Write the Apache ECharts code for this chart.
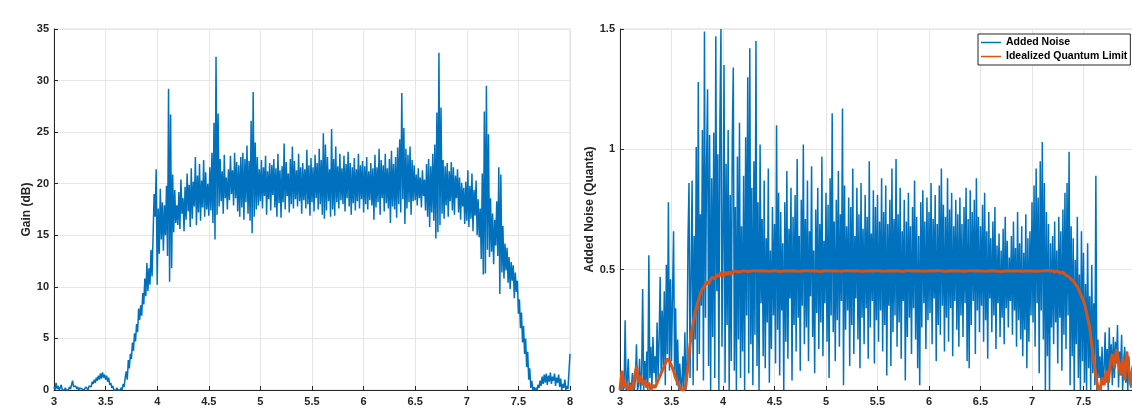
<!DOCTYPE html>
<html><head><meta charset="utf-8">
<script src="https://cdn.jsdelivr.net/npm/echarts@6/dist/echarts.min.js"></script>
<style>html,body{margin:0;padding:0;background:#fff}#c{width:1132px;height:408px}</style>
</head><body><div id="c"></div>
<script>
// Frequency sampling grid (GHz) for the blue traces
const freqStart = 3.0;
const freqStep = 0.01;
const xTicks = [3, 3.5, 4, 4.5, 5, 5.5, 6, 6.5, 7, 7.5, 8];
const gainTicks = [0, 5, 10, 15, 20, 25, 30, 35];
const noiseTicks = [0, 0.5, 1, 1.5];

// Gain (dB)
const gainDb = [
0.3,0.0,0.7,0.1,0.4,0.0,0.2,0.5,0.0,0.1,
0.0,0.2,0.0,0.1,0.0,0.3,0.1,0.2,0.9,0.3,
0.2,0.4,0.1,0.3,0.0,0.2,0.3,0.1,0.2,0.0,
0.1,0.3,0.2,0.0,0.4,0.5,0.3,0.8,0.6,1.0,
0.7,1.2,0.9,1.4,1.0,1.6,1.1,1.7,1.2,1.5,
1.0,1.4,0.8,1.2,0.5,0.7,0.2,0.4,0.0,0.1,
0.0,0.2,0.0,0.1,0.0,0.2,0.0,0.6,0.3,1.2,
1.8,1.0,2.9,2.1,3.5,3.0,4.6,3.8,5.5,4.7,
6.4,5.6,7.9,6.8,8.2,7.2,9.4,8.3,10.8,9.1,
12.3,9.6,11.8,10.2,13.6,11.0,14.9,19.0,16.8,21.4,
10.2,17.6,13.2,19.5,14.6,18.2,13.5,17.9,15.0,19.8,
13.0,29.2,10.5,26.7,11.8,20.9,15.3,19.4,16.2,17.9,
16.0,19.2,15.6,20.4,17.1,18.6,15.4,19.7,16.5,21.0,
17.3,19.9,15.8,21.5,16.6,20.2,17.8,22.6,16.0,20.8,
17.2,21.9,16.4,20.3,17.7,22.3,16.8,21.1,17.5,20.0,
16.9,21.6,17.4,23.0,16.2,25.9,14.6,32.3,17.0,26.8,
17.8,22.4,18.3,21.2,17.1,22.8,18.6,20.6,17.5,21.4,
18.4,22.7,19.0,21.3,17.9,23.0,18.6,22.1,17.3,21.8,
16.8,22.6,17.7,23.0,16.5,22.4,18.2,23.7,17.1,22.2,
16.4,26.1,15.2,28.9,16.8,24.0,17.5,22.6,17.9,21.4,
18.3,22.3,17.6,21.6,18.8,22.7,17.0,21.2,18.5,22.0,
17.4,21.8,18.9,22.4,17.7,21.5,16.8,22.9,18.1,21.3,
16.7,21.7,18.2,23.9,17.5,22.1,18.8,21.0,17.2,22.4,
18.0,23.6,17.6,22.2,18.5,21.3,17.8,22.9,18.3,21.6,
17.1,22.0,18.4,21.4,17.6,23.3,18.0,21.8,16.9,22.5,
18.2,21.6,17.3,22.8,18.6,22.0,17.5,23.4,18.0,22.3,
17.0,24.9,16.6,23.8,17.4,22.6,18.3,21.4,16.8,25.3,
17.5,22.4,16.9,23.6,18.2,21.7,17.6,22.9,18.4,21.5,
18.0,22.7,17.3,21.9,18.6,23.1,17.8,22.0,17.0,21.6,
18.1,22.5,17.4,21.4,18.3,22.9,17.6,21.8,18.5,22.2,
17.2,21.7,18.0,22.6,17.5,21.2,18.4,22.0,17.9,21.5,
16.5,22.8,17.7,21.6,18.2,23.4,17.0,22.3,18.6,21.8,
17.3,22.9,18.1,21.5,17.6,22.4,16.2,23.2,17.8,21.9,
17.5,22.6,16.7,23.5,18.0,24.3,17.2,28.8,18.5,25.4,
16.1,23.4,17.6,22.8,18.2,23.6,17.0,22.3,18.3,21.8,
18.4,20.9,17.9,21.5,18.6,20.6,17.7,21.3,18.8,20.4,
17.4,21.9,16.8,22.4,15.8,21.7,17.2,22.9,16.4,23.8,
14.7,26.9,15.3,32.7,16.0,27.4,17.1,22.3,16.6,21.7,
17.9,22.0,16.8,21.2,18.3,22.1,17.4,21.6,17.0,20.8,
18.6,21.4,17.2,20.6,16.5,20.1,17.8,19.6,16.1,20.2,
16.4,21.3,15.8,19.8,16.6,21.0,15.4,19.4,16.9,20.3,
15.0,18.5,14.8,17.6,12.7,21.0,11.2,27.0,11.3,29.5,
13.6,24.8,12.9,18.6,13.4,17.1,12.2,16.5,14.0,18.3,
13.0,21.6,9.3,20.9,11.4,15.9,10.8,14.2,11.6,13.8,
10.4,12.9,9.8,12.4,10.6,12.1,8.9,11.4,9.5,10.6,
7.4,8.8,6.0,7.5,4.6,6.2,3.5,5.0,2.2,3.7,
1.0,2.1,0.2,0.9,0.0,0.3,0.0,0.2,0.0,0.5,
0.2,0.9,0.4,1.3,0.6,1.5,0.7,1.6,0.5,1.4,
0.8,1.7,0.6,1.3,0.9,1.6,0.4,1.2,0.7,1.5,
0.3,1.1,0.0,0.6,0.2,1.0,0.0,0.4,0.1,1.8,
3.5
];

// Added noise (quanta)
const addedNoise = [
0.02,0.00,0.06,0.00,0.01,0.29,0.00,0.04,0.13,0.00,
0.03,0.00,0.07,0.01,0.00,0.05,0.19,0.00,0.02,0.13,
0.00,0.06,0.42,0.00,0.12,0.02,0.16,0.00,0.56,0.05,
0.18,0.01,0.22,0.07,0.14,0.03,0.28,0.05,0.21,0.47,
0.06,0.33,0.10,0.41,0.02,0.52,0.15,0.78,0.08,0.46,
0.12,0.39,0.66,0.05,0.34,0.02,0.21,0.00,0.11,0.03,
0.00,0.14,0.01,0.24,0.00,0.09,0.62,0.86,0.05,0.48,
0.87,0.02,0.64,0.21,1.01,0.08,1.28,0.15,0.73,0.35,
1.08,0.04,1.49,0.30,0.92,1.25,0.10,1.06,0.00,0.88,
0.22,1.07,0.05,1.47,0.41,0.98,0.00,1.12,1.50,0.18,
0.62,1.35,0.03,0.94,0.27,1.08,0.00,0.81,0.12,1.04,
1.34,0.08,0.76,0.00,0.97,0.21,1.11,0.05,0.68,0.16,
0.89,0.00,1.05,0.31,1.30,0.07,1.42,0.19,0.84,0.02,
0.95,0.23,1.45,0.10,0.78,0.00,1.02,0.36,0.71,0.14,
0.87,0.09,0.63,0.28,0.92,0.03,0.58,0.17,0.76,0.31,
0.69,0.11,1.10,0.25,0.82,0.06,0.74,0.33,0.61,0.00,
0.78,0.20,0.91,0.13,0.67,0.38,0.84,0.04,0.72,0.27,
0.81,0.16,0.96,0.30,0.64,0.08,0.79,0.35,1.02,0.19,
0.71,0.26,0.87,0.12,0.66,0.39,0.93,0.22,0.58,0.07,
0.75,0.32,0.84,0.17,0.69,0.28,0.97,0.14,0.62,0.36,
0.82,0.20,0.77,0.05,0.88,0.31,1.15,0.24,0.70,0.12,
0.79,0.29,0.91,0.18,0.73,0.37,1.17,0.02,0.85,0.25,
0.68,0.33,0.80,0.10,0.76,0.27,0.92,0.15,0.64,0.38,
0.84,0.21,0.73,0.09,0.86,0.30,0.67,0.19,0.81,0.34,
0.72,0.13,0.95,0.26,0.65,0.37,0.83,0.11,0.76,0.29,
0.81,0.20,0.70,0.33,0.88,0.16,0.74,0.27,0.85,0.06,
0.69,0.35,0.79,0.10,0.92,0.24,0.71,0.31,0.96,0.18,
0.73,0.28,0.84,0.13,0.66,0.37,0.79,0.04,0.70,0.22,
0.82,0.30,0.68,0.15,0.76,0.34,0.87,0.21,0.72,0.09,
0.64,0.02,0.78,0.26,0.83,0.36,0.70,0.17,0.80,0.29,
0.74,0.32,0.86,0.19,0.71,0.38,0.81,0.12,0.69,0.27,
0.85,0.23,0.92,0.35,0.77,0.16,0.72,0.30,0.88,0.20,
0.75,0.34,0.82,0.14,0.68,0.37,0.79,0.25,0.73,0.18,
0.80,0.31,0.69,0.22,0.76,0.36,0.84,0.12,0.71,0.09,
0.83,0.27,0.74,0.37,0.79,0.15,0.88,0.33,0.72,0.24,
0.68,0.35,0.77,0.20,0.82,0.29,0.66,0.13,0.74,0.38,
0.63,0.24,0.70,0.31,0.76,0.17,0.60,0.36,0.65,0.22,
0.58,0.30,0.67,0.19,0.72,0.34,0.62,0.26,0.55,0.37,
0.64,0.23,0.70,0.33,0.59,0.18,0.74,0.29,0.61,0.21,
0.68,0.14,0.57,0.25,0.73,0.09,0.63,0.20,0.66,0.31,
0.78,0.28,0.85,0.18,0.92,0.36,0.80,0.07,0.95,0.33,
1.03,0.21,0.86,0.00,0.74,0.14,0.69,0.00,0.61,0.26,
0.64,0.19,0.70,0.28,0.58,0.11,0.72,0.30,0.66,0.08,
0.75,0.23,0.82,0.17,0.86,0.31,0.99,0.02,0.68,0.14,
0.63,0.00,0.54,0.19,0.72,0.05,0.48,0.00,0.66,0.12,
0.57,0.03,0.44,0.00,0.61,0.09,0.39,0.00,0.52,0.07,
0.36,0.02,0.89,0.00,0.21,0.05,0.14,0.00,0.18,0.02,
0.09,0.24,0.03,0.17,0.00,0.26,0.08,0.19,0.02,0.22,
0.05,0.20,0.11,0.27,0.01,0.16,0.07,0.23,0.00,0.12,
0.18,0.03,0.10,0.00,0.14,0.06,0.01,0.09,0.00,0.05,
0.02
];

// Idealized quantum limit: frequencies and values
const limitFreq = [
3.00,3.02,3.04,3.06,3.08,3.10,3.12,3.14,3.16,3.18,
3.20,3.22,3.24,3.26,3.28,3.30,3.32,3.34,3.36,3.38,
3.40,3.42,3.44,3.46,3.48,3.50,3.52,3.54,3.56,3.58,
3.60,3.62,3.64,3.66,3.68,3.70,3.72,3.74,3.76,3.78,
3.80,3.82,3.84,3.86,3.88,3.90,3.92,3.94,3.96,3.98,
4.00,4.02,4.04,4.06,4.08,4.10,4.15,4.20,4.25,4.30,
4.35,4.40,4.45,4.50,4.55,4.60,4.65,4.70,4.75,4.80,
4.85,4.90,4.95,5.00,5.05,5.10,5.15,5.20,5.25,5.30,
5.35,5.40,5.45,5.50,5.55,5.60,5.65,5.70,5.75,5.80,
5.85,5.90,5.95,6.00,6.05,6.10,6.15,6.20,6.25,6.30,
6.35,6.40,6.45,6.50,6.55,6.60,6.65,6.70,6.75,6.80,
6.85,6.90,6.95,7.00,7.05,7.10,7.15,7.20,7.22,7.24,
7.26,7.28,7.30,7.32,7.34,7.36,7.38,7.40,7.42,7.44,
7.46,7.48,7.50,7.52,7.54,7.56,7.58,7.60,7.62,7.64,
7.66,7.68,7.70,7.72,7.74,7.76,7.78,7.80,7.82,7.84,
7.86,7.88,7.90,7.92,7.94,7.96,7.98,8.00
];
const limitNoise = [
0.00,0.08,0.01,0.03,0.00,0.02,0.00,0.05,0.10,0.03,
0.06,0.02,0.04,0.01,0.03,0.00,0.02,0.01,0.03,0.05,
0.07,0.09,0.11,0.13,0.12,0.10,0.08,0.05,0.03,0.01,
0.00,0.00,0.02,0.10,0.19,0.25,0.30,0.34,0.37,0.40,
0.42,0.43,0.45,0.44,0.46,0.47,0.46,0.48,0.47,0.49,
0.47,0.49,0.48,0.49,0.48,0.495,0.49,0.495,0.492,0.496,
0.494,0.495,0.493,0.496,0.492,0.495,0.494,0.495,0.493,0.496,
0.494,0.495,0.492,0.496,0.494,0.495,0.493,0.496,0.494,0.495,
0.493,0.495,0.494,0.496,0.493,0.495,0.494,0.495,0.493,0.496,
0.494,0.495,0.493,0.495,0.494,0.496,0.493,0.495,0.494,0.495,
0.493,0.496,0.494,0.495,0.493,0.495,0.494,0.492,0.495,0.494,
0.495,0.493,0.495,0.494,0.493,0.495,0.497,0.495,0.49,0.495,
0.49,0.485,0.49,0.48,0.475,0.47,0.46,0.455,0.44,0.43,
0.41,0.39,0.37,0.34,0.30,0.26,0.19,0.12,0.06,0.01,
0.00,0.05,0.02,0.08,0.03,0.11,0.15,0.09,0.17,0.12,
0.06,0.13,0.04,0.16,0.08,0.02,0.10,0.05
];

const seriesNames = ['Gain', 'Added Noise', 'Idealized Quantum Limit'];
const colors = { blue: '#0072BD', orange: '#D95319' };

const freq = gainDb.map((_, i) => +(freqStart + i * freqStep).toFixed(2));
const gainPairs = freq.map((f, i) => [f, gainDb[i]]);
const noisePairs = freq.map((f, i) => [f, addedNoise[i]]);
const limitPairs = limitFreq.map((f, i) => [f, limitNoise[i]]);

const FONT = 'Liberation Sans, Arial, Helvetica, sans-serif';
const labelStyle = { fontFamily: FONT, fontWeight: 'bold', fontSize: 11, color: '#262626' };

function xAxisCfg(gi) {
  return {
    gridIndex: gi, type: 'value', min: 3, max: 8, interval: 0.5,
    axisLine: { show: true, onZero: false, lineStyle: { color: '#262626', width: 1 } },
    axisTick: { show: true, inside: true, length: 4, lineStyle: { color: '#262626' } },
    axisLabel: Object.assign({ margin: 6, formatter: v => (xTicks.includes(v) ? String(v) : '') }, labelStyle),
    splitLine: { show: true, lineStyle: { color: '#e6e6e6', width: 1 } }
  };
}
function yAxisCfg(gi, name, max, interval, ticks, gap) {
  return {
    gridIndex: gi, type: 'value', min: 0, max: max, interval: interval,
    name: name, nameLocation: 'middle', nameGap: gap, nameRotate: 90,
    nameTextStyle: Object.assign({}, labelStyle, { fontSize: 12 }),
    axisLine: { show: true, onZero: false, lineStyle: { color: '#262626', width: 1 } },
    axisTick: { show: true, inside: true, length: 4, lineStyle: { color: '#262626' } },
    axisLabel: Object.assign({ margin: 5, formatter: v => (ticks.includes(v) ? String(v) : '') }, labelStyle),
    splitLine: { show: true, lineStyle: { color: '#e6e6e6', width: 1 } }
  };
}

const chart = echarts.init(document.getElementById('c'), null, { renderer: 'canvas' });
chart.setOption({
  animation: false,
  backgroundColor: '#ffffff',
  grid: [
    { left: 54, top: 29, width: 516, height: 361, show: true, borderColor: '#dcdcdc', borderWidth: 1, containLabel: false, outerBoundsMode: 'none' },
    { left: 620, top: 29, width: 515, height: 361, show: true, borderColor: '#dcdcdc', borderWidth: 1, containLabel: false, outerBoundsMode: 'none' }
  ],
  xAxis: [xAxisCfg(0), xAxisCfg(1)],
  yAxis: [
    yAxisCfg(0, 'Gain (dB)', 35, 5, gainTicks, 14),
    yAxisCfg(1, 'Added Noise (Quanta)', 1.5, 0.5, noiseTicks, 21)
  ],
  legend: {
    data: [seriesNames[1], seriesNames[2]],
    orient: 'vertical', left: 978, top: 34,
    backgroundColor: '#ffffff', borderColor: '#262626', borderWidth: 1, borderRadius: 0,
    padding: [3, 3, 3, 3], itemGap: 3, itemWidth: 20, itemHeight: 1.5, icon: 'rect',
    textStyle: { fontFamily: FONT, fontWeight: 'bold', fontSize: 10.5, color: '#000000' }
  },
  series: [
    { name: seriesNames[0], type: 'line', xAxisIndex: 0, yAxisIndex: 0, data: gainPairs,
      showSymbol: false, symbol: 'none', lineStyle: { color: colors.blue, width: 1.5 }, itemStyle: { color: colors.blue } },
    { name: seriesNames[1], type: 'line', xAxisIndex: 1, yAxisIndex: 1, data: noisePairs,
      showSymbol: false, symbol: 'none', lineStyle: { color: colors.blue, width: 1.5 }, itemStyle: { color: colors.blue } },
    { name: seriesNames[2], type: 'line', xAxisIndex: 1, yAxisIndex: 1, data: limitPairs, z: 3,
      showSymbol: false, symbol: 'none', lineStyle: { color: colors.orange, width: 3 }, itemStyle: { color: colors.orange } }
  ]
});
</script></body></html>
